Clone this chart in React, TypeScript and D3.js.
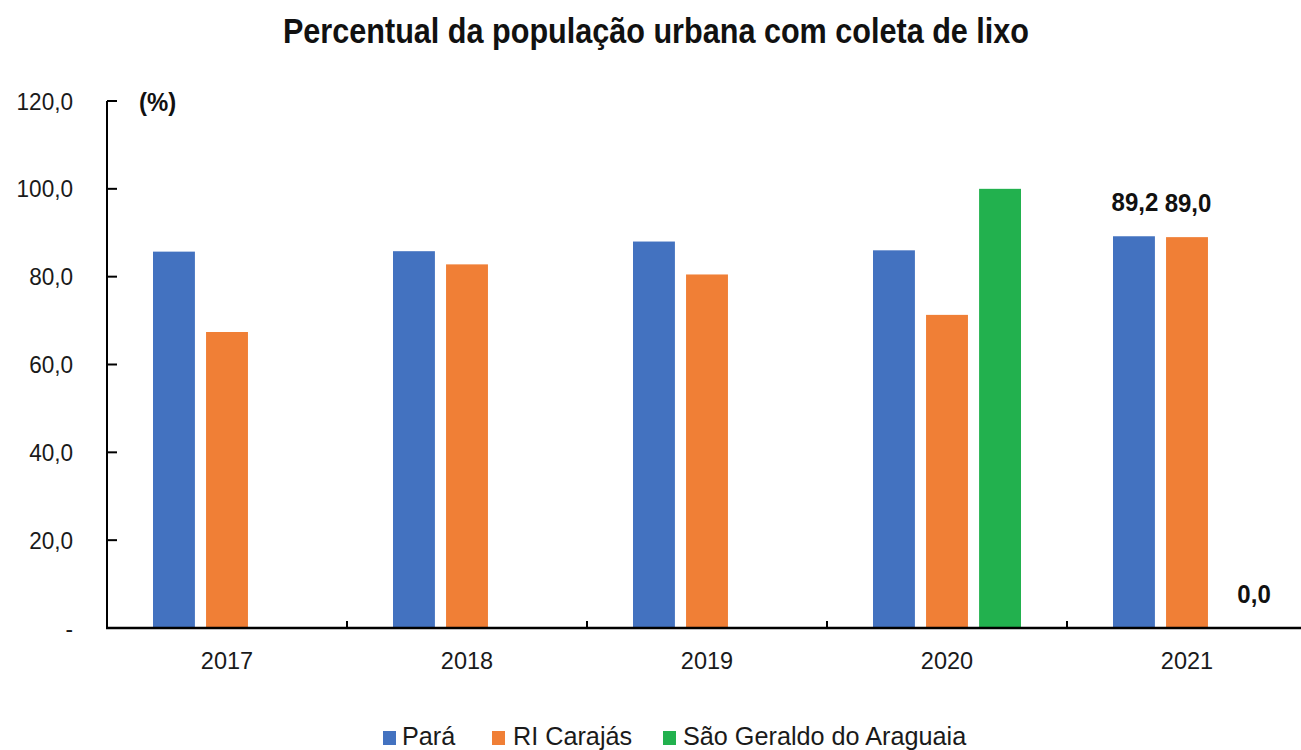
import React from "react";
import * as d3 from "d3";

const categories = ["2017", "2018", "2019", "2020", "2021"];
const seriesNames = ["Pará", "RI Carajás", "São Geraldo do Araguaia"];
const para = [85.7, 85.8, 88.0, 86.0, 89.2];
const riCarajas = [67.4, 82.8, 80.5, 71.3, 89.0];
const saoGeraldo: (number | null)[] = [null, null, null, 100.0, 0.0];
const yTicks = [0, 20, 40, 60, 80, 100, 120];
const labeledCategory = "2021";
const colors = ["#4372C0", "#F07F36", "#22B14E"];

const W = 1301;
const H = 750;
const FONT = "'Liberation Sans', Arial, sans-serif";

type TProps = {
  x: number;
  y: number;
  size: number;
  sx?: number;
  anchor?: "start" | "middle" | "end";
  bold?: boolean;
  fill?: string;
  children: React.ReactNode;
};

function T({ x, y, size, sx = 1, anchor = "start", bold = false, fill = "#1a1a1a", children }: TProps) {
  return (
    <text
      transform={`translate(${x},${y}) scale(${sx},1)`}
      textAnchor={anchor}
      fontFamily={FONT}
      fontWeight={bold ? "bold" : "normal"}
      fontSize={size}
      fill={fill}
    >
      {children}
    </text>
  );
}

export default function App() {
  const left = 107;
  const right = 1307;
  const bottom = 628;

  const x = d3.scaleBand<string>().domain(categories).range([left, right]).padding(0);
  const inner = d3
    .scaleBand<number>()
    .domain([0, 1, 2])
    .range([46, 194])
    .paddingInner(0.21)
    .paddingOuter(0);
  const y = d3.scaleLinear().domain([0, 120]).range([bottom, bottom - 527]);

  const series = [para, riCarajas, saoGeraldo];
  const fmt = (v: number) => v.toFixed(1).replace(".", ",");

  const legendItems = [
    { x: 383, tx: 402 },
    { x: 492, tx: 513 },
    { x: 663, tx: 683 },
  ];

  return (
    <svg width={W} height={H} style={{ display: "block", position: "absolute", left: 0, top: 0, background: "#fff" }}>
      <T x={656} y={43} size={36} sx={0.85} anchor="middle" bold fill="#111">
        Percentual da população urbana com coleta de lixo
      </T>
      {/* y axis */}
      <line x1={left} x2={left} y1={y(120)} y2={bottom} stroke="#000" strokeWidth={2} />
      {yTicks.map((t) => (
        <g key={t}>
          <line x1={left} x2={left + 10} y1={y(t)} y2={y(t)} stroke="#000" strokeWidth={2} />
          <T x={73} y={y(t) + 8.5} size={23.5} sx={0.96} anchor="end">
            {t === 0 ? "-" : fmt(t)}
          </T>
        </g>
      ))}
      <T x={139} y={y(120) + 10} size={26} sx={0.92} bold fill="#111">
        (%)
      </T>
      {/* bars */}
      {categories.map((c, ci) =>
        series.map((s, si) => {
          const v = s[ci];
          if (v === null || v === undefined) return null;
          const bx = (x(c) as number) + (inner(si) as number);
          const bw = inner.bandwidth();
          return (
            <g key={c + si}>
              {v > 0 && <rect x={bx} y={y(v)} width={bw} height={bottom - y(v)} fill={colors[si]} />}
              {c === labeledCategory && (
                <T x={bx + bw / 2 + (v === 0 ? 14 : 1)} y={y(v) - 25} size={25} sx={0.96} anchor="middle" bold fill="#111">
                  {fmt(v)}
                </T>
              )}
            </g>
          );
        })
      )}
      {/* x axis */}
      <line x1={left - 1} x2={W} y1={bottom} y2={bottom} stroke="#000" strokeWidth={2.5} />
      {categories.map((c, i) => (
        <g key={c}>
          {i > 0 && <line x1={x(c)} x2={x(c)} y1={bottom} y2={bottom - 7} stroke="#000" strokeWidth={2} />}
          <T x={(x(c) as number) + x.bandwidth() / 2} y={669} size={23.5} anchor="middle">
            {c}
          </T>
        </g>
      ))}
      {/* legend */}
      {legendItems.map((it, i) => (
        <g key={i}>
          <rect x={it.x} y={731} width={13} height={14} fill={colors[i]} />
          <T x={it.tx} y={745} size={26} sx={0.97}>
            {seriesNames[i]}
          </T>
        </g>
      ))}
    </svg>
  );
}
